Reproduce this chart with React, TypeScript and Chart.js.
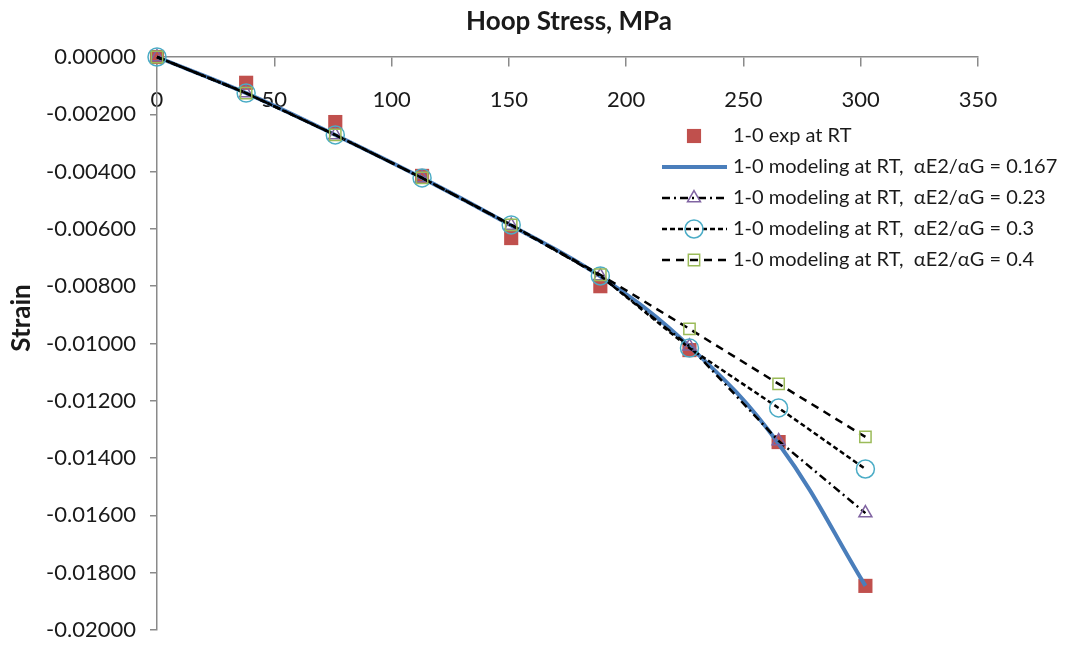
import React, { useEffect, useRef } from 'react';
import { Chart, registerables } from 'chart.js';

Chart.register(...registerables);

// ---- data ----
const stressMPa = [0, 38, 76, 113, 151, 189, 227, 265, 302];
const expRT = [0, -0.0009, -0.00227, -0.00415, -0.00632, -0.0080, -0.01023, -0.01344, -0.01846];
const model0167 = [0, -0.00126, -0.00272, -0.00422, -0.00588, -0.00766, -0.0101, -0.0135, -0.01846];
const model023 = [0, -0.00126, -0.00272, -0.00422, -0.00588, -0.00764, -0.0101, -0.0134, -0.01592];
const model03 = [0, -0.00126, -0.00272, -0.00422, -0.00586, -0.00764, -0.01016, -0.01225, -0.01438];
const model04 = [0, -0.00126, -0.00272, -0.00422, -0.00586, -0.0076, -0.00949, -0.01141, -0.01326];

const seriesLabels = [
  '1-0 exp at RT',
  '1-0 modeling at RT,  \u03b1E2/\u03b1G = 0.167',
  '1-0 modeling at RT,  \u03b1E2/\u03b1G = 0.23',
  '1-0 modeling at RT,  \u03b1E2/\u03b1G = 0.3',
  '1-0 modeling at RT,  \u03b1E2/\u03b1G = 0.4',
];
const xTitle = 'Hoop Stress, MPa';
const yTitle = 'Strain';
const xMin = 0, xMax = 350, xStep = 50;
const yMin = -0.02, yMax = 0, yStep = 0.002;

const FONT = 'Lato, "Open Sans", sans-serif';
const TEXT = '#1a1a1a';
const AXIS = '#8a8a8a';

const toPts = (ys: number[]) => stressMPa.map((x, i) => ({ x, y: ys[i] }));

function drawMarker(ctx: CanvasRenderingContext2D, style: string, x: number, y: number, r: number, fill: string, stroke: string, lw: number) {
  ctx.save();
  ctx.beginPath();
  if (style === 'rect') {
    const s = Math.SQRT1_2 * r;
    ctx.rect(x - s, y - s, 2 * s, 2 * s);
  } else if (style === 'circle') {
    ctx.arc(x, y, r, 0, Math.PI * 2);
  } else if (style === 'triangle') {
    let rad = 0;
    ctx.moveTo(x + Math.sin(rad) * r, y - Math.cos(rad) * r);
    rad += (2 * Math.PI) / 3;
    ctx.lineTo(x + Math.sin(rad) * r, y - Math.cos(rad) * r);
    rad += (2 * Math.PI) / 3;
    ctx.lineTo(x + Math.sin(rad) * r, y - Math.cos(rad) * r);
    ctx.closePath();
  }
  if (fill && fill !== 'transparent') {
    ctx.fillStyle = fill;
    ctx.fill();
  }
  if (lw > 0) {
    ctx.strokeStyle = stroke;
    ctx.lineWidth = lw;
    ctx.stroke();
  }
  ctx.restore();
}

const decorPlugin = {
  id: 'decor',
  afterDraw(chart: any) {
    const ctx: CanvasRenderingContext2D = chart.ctx;
    ctx.save();
    // titles
    ctx.fillStyle = TEXT;
    ctx.font = `bold 26px ${FONT}`;
    ctx.textAlign = 'center';
    ctx.textBaseline = 'middle';
    ctx.fillText(xTitle, 569, 22);
    ctx.save();
    ctx.translate(22, 318);
    ctx.rotate(-Math.PI / 2);
    ctx.fillText(yTitle, 0, 0);
    ctx.restore();

    // legend
    const rows = [136, 167, 198, 229, 260];
    const x0 = 662, x1 = 727, xm = 694, xt = 733;
    chart.data.datasets.forEach((ds: any, i: number) => {
      const y = rows[i];
      if (ds.showLine) {
        ctx.save();
        ctx.beginPath();
        ctx.setLineDash(ds.borderDash || []);
        ctx.strokeStyle = ds.borderColor;
        ctx.lineWidth = ds.borderWidth;
        ctx.moveTo(x0, y);
        ctx.lineTo(x1, y);
        ctx.stroke();
        ctx.restore();
      }
      if (ds.pointRadius > 0) {
        drawMarker(ctx, ds.pointStyle, xm, y, ds.pointRadius, ds.pointBackgroundColor, ds.pointBorderColor, ds.pointBorderWidth);
      }
      ctx.fillStyle = TEXT;
      ctx.font = `20px ${FONT}`;
      ctx.textAlign = 'left';
      ctx.textBaseline = 'middle';
      ctx.fillText(ds.label, xt, y);
    });
    ctx.restore();
  },
};

export default function App() {
  const ref = useRef<HTMLCanvasElement | null>(null);
  useEffect(() => {
    if (!ref.current) return;
    const chart = new Chart(ref.current, {
      type: 'scatter',
      data: {
        datasets: [
          {
            label: seriesLabels[0],
            data: toPts(expRT),
            showLine: false,
            pointStyle: 'rect',
            pointRadius: 10,
            pointBackgroundColor: '#C0504D',
            pointBorderColor: '#C0504D',
            pointBorderWidth: 0,
            order: 5,
          },
          {
            label: seriesLabels[1],
            data: toPts(model0167),
            showLine: true,
            borderColor: '#4A7EBB',
            borderWidth: 4,
            tension: 0.4,
            pointRadius: 0,
            pointStyle: 'circle',
            pointBackgroundColor: 'transparent',
            pointBorderColor: '#4A7EBB',
            pointBorderWidth: 0,
            order: 4,
          },
          {
            label: seriesLabels[2],
            data: toPts(model023),
            showLine: true,
            borderColor: '#000000',
            borderWidth: 2.5,
            borderDash: [8, 4, 2, 4],
            tension: 0,
            pointRadius: 7.5,
            pointStyle: 'triangle',
            pointBackgroundColor: 'transparent',
            pointBorderColor: '#8064A2',
            pointBorderWidth: 1.5,
            order: 3,
          },
          {
            label: seriesLabels[3],
            data: toPts(model03),
            showLine: true,
            borderColor: '#000000',
            borderWidth: 2.5,
            borderDash: [5, 3],
            tension: 0,
            pointRadius: 9,
            pointStyle: 'circle',
            pointBackgroundColor: 'transparent',
            pointBorderColor: '#4BACC6',
            pointBorderWidth: 1.5,
            order: 2,
          },
          {
            label: seriesLabels[4],
            data: toPts(model04),
            showLine: true,
            borderColor: '#000000',
            borderWidth: 2.5,
            borderDash: [8, 6],
            tension: 0,
            pointRadius: 8,
            pointStyle: 'rect',
            pointBackgroundColor: 'transparent',
            pointBorderColor: '#9BBB59',
            pointBorderWidth: 1.5,
            order: 1,
          },
        ] as any,
      },
      options: {
        animation: false,
        responsive: false,
        devicePixelRatio: 1,
        clip: false as any,
        layout: { padding: { top: 57, right: 88, bottom: 16, left: 0 } },
        plugins: {
          legend: { display: false },
          title: { display: false },
          tooltip: { enabled: false },
        },
        scales: {
          x: {
            type: 'linear',
            position: { y: 0 } as any,
            min: xMin,
            max: xMax,
            afterFit: (s: any) => { s.paddingLeft = 0; s.paddingRight = 0; },
            ticks: {
              stepSize: xStep,
              padding: 21,
              color: TEXT,
              font: { family: FONT, size: 22 },
              maxRotation: 0,
            },
            grid: { display: true, drawOnChartArea: false, drawTicks: true, tickLength: 9, color: AXIS, lineWidth: 1.5 },
            border: { display: true, color: AXIS, width: 1.5 },
          },
          y: {
            type: 'linear',
            position: 'left',
            min: yMin,
            max: yMax,
            afterFit: (s: any) => { s.width = 157; s.paddingTop = 0; s.paddingBottom = 0; },
            ticks: {
              stepSize: yStep,
              padding: 14,
              color: TEXT,
              font: { family: FONT, size: 22 },
              callback: (v: any) => Number(v).toFixed(5),
            },
            grid: { display: true, drawOnChartArea: false, drawTicks: true, tickLength: 7, color: AXIS, lineWidth: 1.5 },
            border: { display: true, color: AXIS, width: 1.5 },
          },
        },
      },
      plugins: [decorPlugin],
    });
    return () => chart.destroy();
  }, []);
  return (
    <div style={{ position: 'fixed', left: 0, top: 0, width: 1066, height: 646, background: '#fff' }}>
      <canvas ref={ref} width={1066} height={646} style={{ display: 'block' }} />
    </div>
  );
}
